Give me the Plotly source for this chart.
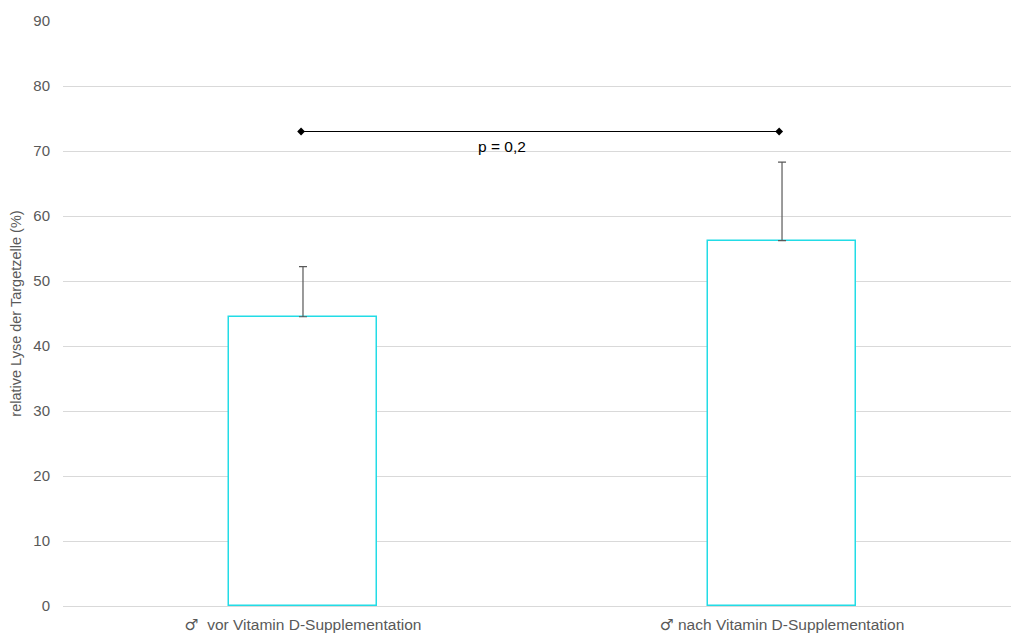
import plotly.graph_objects as go

# Data
SYM = '<span style="font-family:DejaVu Sans">\u2642</span>'
categories = [SYM + "  vor Vitamin D-Supplementation", SYM + " nach Vitamin D-Supplementation"]
lysis_mean = [44.5, 56.2]
lysis_err_plus = [7.7, 12.1]
bracket_x = [-0.004, 0.994]
bracket_y = 73.0
p_label = "p = 0,2"
y_ticks = [0, 10, 20, 30, 40, 50, 60, 70, 80, 90]

GREY = "#595959"
FONT = "Liberation Sans, Arial, sans-serif"

fig = go.Figure()

fig.add_trace(go.Bar(
    x=[0, 1],
    y=lysis_mean,
    width=0.31,
    marker=dict(color="white", line=dict(color="#22DCE6", width=1.5)),
    error_y=dict(type="data", symmetric=False, array=lysis_err_plus,
                 arrayminus=[0, 0], color=GREY, thickness=1.2, width=4),
    showlegend=False,
    hoverinfo="skip",
))

# significance bracket
fig.add_trace(go.Scatter(
    x=bracket_x,
    y=[bracket_y, bracket_y],
    mode="lines+markers",
    line=dict(color="black", width=1.2),
    marker=dict(symbol="diamond", size=6, color="black"),
    showlegend=False,
    hoverinfo="skip",
))

fig.add_annotation(
    x=0.415, y=bracket_y - 2.3, text=p_label, showarrow=False,
    font=dict(family=FONT, size=15.5, color="black"),
)

fig.update_layout(
    width=1011, height=637,
    margin=dict(l=63, r=0, t=21, b=31),
    paper_bgcolor="white", plot_bgcolor="white",
    font=dict(family=FONT, size=15, color=GREY),
    bargap=0,
)

fig.update_xaxes(
    tickmode="array", tickvals=[0, 1], ticktext=categories,
    range=[-0.501, 1.478],
    showgrid=False, zeroline=False,
    showline=True, linecolor="#d9d9d9", linewidth=1,
    ticks="", ticklabelstandoff=4,
    tickfont=dict(family=FONT, size=15.5, color=GREY),
)

fig.update_yaxes(
    range=[0, 90], tickvals=y_ticks,
    showgrid=True, gridcolor="#d9d9d9", gridwidth=1,
    zeroline=False, showline=False, ticks="",
    ticklabelstandoff=12,
    tickfont=dict(family=FONT, size=15, color=GREY),
    title=dict(text="relative Lyse der Targetzelle (%)",
               font=dict(family=FONT, size=14.5, color=GREY), standoff=8),
)

fig.write_html("out.html")
